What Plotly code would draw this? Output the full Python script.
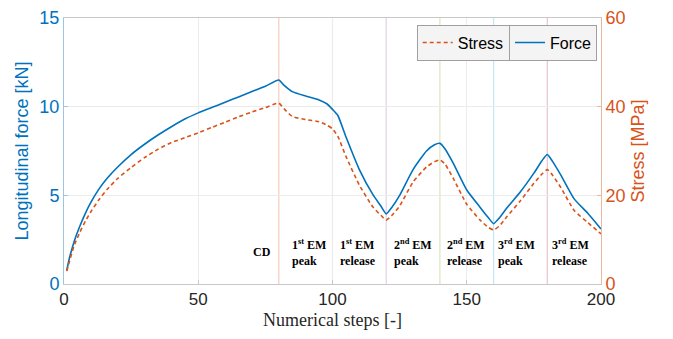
import plotly.graph_objects as go

# Data
steps = [1, 2, 3, 4, 6, 8, 10, 13, 16, 20, 25, 30, 35, 40, 45, 50, 55, 60, 65, 70, 75, 80,
         82, 85, 90, 95, 98, 100, 102, 105, 110, 115, 118, 120, 122, 125, 130, 135, 138, 140,
         142, 145, 150, 155, 158, 160, 162, 165, 170, 175, 178, 180, 182, 185, 190, 195, 200]
force_kN = [0.75, 1.45, 2.0, 2.5, 3.3, 4.0, 4.6, 5.35, 5.95, 6.6, 7.3, 7.88, 8.4, 8.87, 9.3, 9.65,
            9.95, 10.25, 10.55, 10.85, 11.15, 11.5,
            11.2, 10.85, 10.6, 10.38, 10.15, 9.85, 9.5, 8.3, 6.45, 5.05, 4.4, 3.95, 4.3, 5.0, 6.45,
            7.5, 7.85, 7.93,
            7.6, 6.8, 5.3, 4.32, 3.75, 3.4, 3.7, 4.3, 5.2, 6.25, 6.95, 7.3, 6.9, 6.15, 4.8, 4.0, 3.1]
stress_MPa = [2.9, 5.0, 7.2, 9.0, 11.8, 14.2, 16.3, 19.0, 21.3, 23.8, 26.3, 28.5, 30.4, 31.9, 33.0,
              34.1, 35.3, 36.5, 37.7, 38.8, 39.8, 40.8,
              39.5, 37.8, 37.1, 36.6, 35.8, 35.0, 33.3, 28.8, 22.3, 17.4, 15.5, 14.4, 15.4, 17.6,
              23.0, 26.4, 27.6, 28.0,
              27.0, 23.8, 18.0, 14.4, 12.8, 12.2, 13.0, 15.2, 18.8, 22.7, 24.8, 25.8, 24.5, 21.8,
              16.6, 13.9, 11.3]

stage_steps = [80, 100, 120, 140, 160, 180]
stage_colors = ["rgba(217,83,25,0.3)", "rgba(237,177,32,0.3)", "rgba(126,47,142,0.22)",
                "rgba(119,172,48,0.3)", "rgba(77,190,238,0.35)", "rgba(162,20,47,0.25)"]
stage_labels = ["CD", "1<sup>st</sup> EM<br>peak", "1<sup>st</sup> EM<br>release",
                "2<sup>nd</sup> EM<br>peak", "2<sup>nd</sup> EM<br>release",
                "3<sup>rd</sup> EM<br>peak", "3<sup>rd</sup> EM<br>release"]
label_steps = [78, 84, 102, 122, 142, 161, 181]
label_y = 1.8

x_ticks = [0, 50, 100, 150, 200]
y_ticks = [0, 5, 10, 15]
y2_ticks = [0, 20, 40, 60]

BLUE = "#0072BD"
ORANGE = "#D95319"

fig = go.Figure()
fig.add_trace(go.Scatter(x=steps, y=stress_MPa, name="Stress", yaxis="y2", mode="lines",
                         line=dict(color=ORANGE, width=1.6, dash="4px,3px", shape="spline",
                                   smoothing=0.5), legend="legend"))
fig.add_trace(go.Scatter(x=steps, y=force_kN, name="Force", mode="lines",
                         line=dict(color=BLUE, width=1.6, shape="spline", smoothing=0.5),
                         legend="legend2"))

for s, c in zip(stage_steps, stage_colors):
    fig.add_vline(x=s, line=dict(color=c, width=1.2), layer="below")

for i, (lx, txt) in enumerate(zip(label_steps, stage_labels)):
    fig.add_annotation(x=lx, y=label_y, text="<b>" + txt + "</b>", showarrow=False,
                       xanchor="right" if i == 0 else "left", yanchor="middle", align="left",
                       font=dict(family="Liberation Serif", size=12, color="black"))

fig.update_layout(
    width=665, height=331,
    margin=dict(l=56, r=72, t=10, b=55),
    paper_bgcolor="white", plot_bgcolor="white",
    font=dict(family="Liberation Sans", size=17, color="black"),
    xaxis=dict(range=[0, 200], tickvals=x_ticks, showgrid=True, gridcolor="#ececec",
               zeroline=False, showline=True, linecolor="#c8c8c8", mirror=True,
               ticks="inside", ticklen=4, tickcolor="#c8c8c8", automargin=False,
               tickfont=dict(family="Liberation Sans", size=17, color="#262626"),
               title=dict(text="Numerical steps [-]", standoff=4,
                          font=dict(family="Liberation Serif", size=18, color="#262626"))),
    yaxis=dict(range=[0, 15], tickvals=y_ticks, showgrid=True, gridcolor="#ececec",
               zeroline=False, showline=True, linecolor="#9cc4e4", automargin=False,
               ticks="inside", ticklen=4, tickcolor="#9cc4e4", ticklabeloverflow="allow",
               tickfont=dict(size=18, color=BLUE),
               title=dict(text="Longitudinal force [kN]", standoff=6,
                          font=dict(size=18, color=BLUE))),
    yaxis2=dict(range=[0, 60], tickvals=y2_ticks, overlaying="y", side="right",
                showgrid=False, zeroline=False, showline=True, linecolor="#e8b8a0",
                ticks="inside", ticklen=4, tickcolor="#e8b8a0", automargin=False,
                ticklabeloverflow="allow",
                tickfont=dict(size=18, color=ORANGE),
                title=dict(text="Stress [MPa]", standoff=6, font=dict(size=18, color=ORANGE))),
    legend=dict(x=0.83, y=0.975, xanchor="right", yanchor="top", bgcolor="#f4f4f4",
                bordercolor="#a0a0a0", borderwidth=1, font=dict(size=16, color="black"),
                itemwidth=30, tracegroupgap=0),
    legend2=dict(x=0.9926, y=0.975, xanchor="right", yanchor="top", bgcolor="#f4f4f4",
                 bordercolor="#a0a0a0", borderwidth=1, font=dict(size=16, color="black"),
                 itemwidth=30, tracegroupgap=0),
    showlegend=True,
)

fig.write_html("out.html")
